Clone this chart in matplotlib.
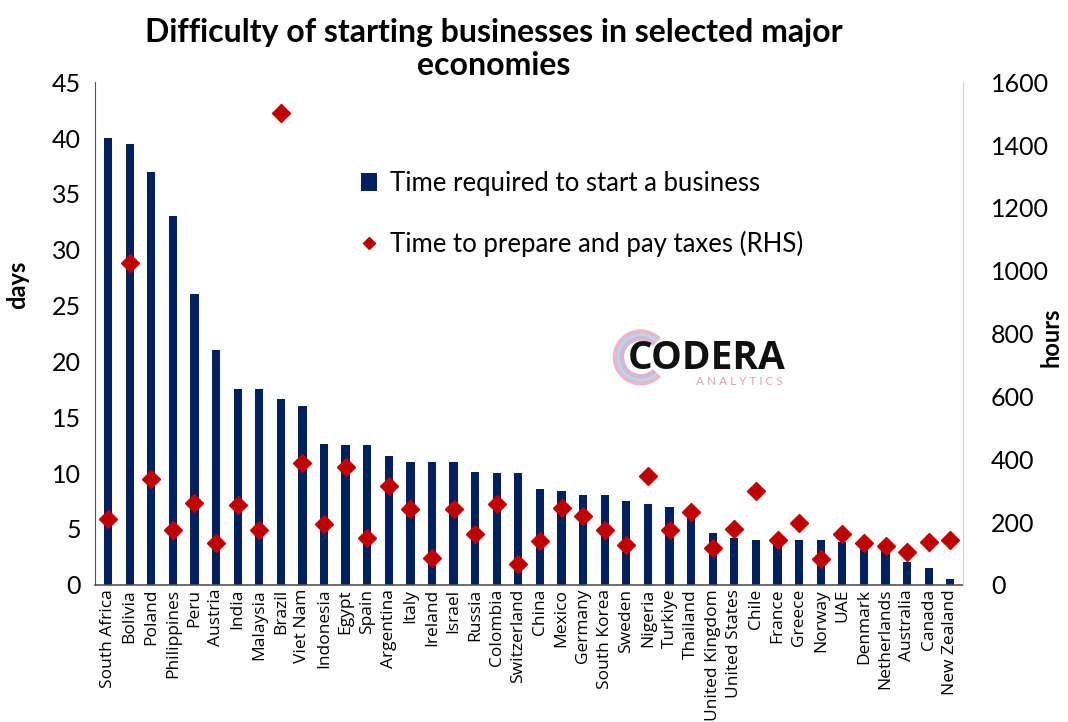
import matplotlib
matplotlib.use("Agg")
import matplotlib.pyplot as plt
from matplotlib.patches import Arc
import numpy as np

countries = ["South Africa", "Bolivia", "Poland", "Philippines", "Peru", "Austria", "India",
             "Malaysia", "Brazil", "Viet Nam", "Indonesia", "Egypt", "Spain", "Argentina",
             "Italy", "Ireland", "Israel", "Russia", "Colombia", "Switzerland", "China",
             "Mexico", "Germany", "South Korea", "Sweden", "Nigeria", "Turkiye", "Thailand",
             "United Kingdom", "United States", "Chile", "France", "Greece", "Norway", "UAE",
             "Denmark", "Netherlands", "Australia", "Canada", "New Zealand"]
start_days = [40, 39.5, 37, 33, 26, 21, 17.5, 17.5, 16.6, 16, 12.6, 12.5, 12.5, 11.5,
              11, 11, 11, 10.1, 10, 10, 8.6, 8.4, 8, 8, 7.5, 7.2, 7, 6.5,
              4.6, 4.2, 4, 4, 4, 4, 3.8, 3.5, 3.3, 2, 1.5, 0.5]
tax_hours = [210, 1025, 337, 175, 261, 134, 254, 175, 1501, 388, 194, 375, 150, 315,
             242, 86, 242, 162, 257, 67, 141, 245, 219, 175, 127, 345, 173, 232,
             118, 178, 299, 143, 197, 83, 162, 134, 124, 106, 135, 143]

plt.rcParams['font.family'] = ['Lato', 'DejaVu Sans']
navy = "#002060"
red = "#C00000"

fig = plt.figure(figsize=(10.68, 7.22), dpi=100)
ax = fig.add_axes([0.089, 0.19, 0.813, 0.696])
x = np.arange(len(countries))
bars = ax.bar(x, start_days, width=0.38, color=navy, label="Time required to start a business", zorder=2)
ax.set_xlim(-0.6, len(countries) - 0.4)
ax.set_ylim(0, 45)
ax.set_yticks(np.arange(0, 46, 5))
ax.set_xticks(x)
ax.set_xticklabels(countries, rotation=90, fontsize=12.5, family=['Open Sans', 'DejaVu Sans'])
ax.tick_params(axis='x', length=0, pad=3)
ax.tick_params(axis='y', length=0, labelsize=18, pad=10)
for s in ['top', 'right']:
    ax.spines[s].set_visible(False)
ax.spines['left'].set_color('#555555')
ax.spines['bottom'].set_color('#555555')
ax.spines['bottom'].set_linewidth(1.2)

ax2 = ax.twinx()
pts, = ax2.plot(x, tax_hours, linestyle='none', marker='D', markersize=9,
                color=red, label="Time to prepare and pay taxes (RHS)", zorder=3)
ax2.set_ylim(0, 1600)
ax2.set_yticks(np.arange(0, 1601, 200))
ax2.tick_params(axis='y', length=0, labelsize=18, pad=20)
for s in ['top', 'left', 'bottom']:
    ax2.spines[s].set_visible(False)
ax2.spines['right'].set_color('#d0d0d0')

fig.text(18 / 1068, 1 - 285 / 722, "days", rotation=90, fontsize=17, fontweight='bold',
         ha='center', va='center')
fig.text(1051 / 1068, 1 - 337 / 722, "hours", rotation=90, fontsize=17, fontweight='bold',
         ha='center', va='center')

leg = ax2.legend(handles=[bars, pts], loc='upper left', bbox_to_anchor=(0.28, 0.87),
                 frameon=False, fontsize=18.5, handlelength=0.6, handletextpad=0.5,
                 labelspacing=1.35, markerscale=0.7)

fig.text(0.462, 0.975, "Difficulty of starting businesses in selected major\neconomies",
         ha='center', va='top', fontsize=23, fontweight='bold', linespacing=1.15)

# logo
fig.text(0.662, 0.503, "CODERA", fontsize=28, fontweight='bold', color='#111111',
         ha='center', va='center', family=['Open Sans', 'DejaVu Sans'])
fig.text(0.692, 0.471, "A N A L Y T I C S", fontsize=8.5, color='#d9a3b4',
         ha='center', va='center')
for r, c in [(0.036, '#e7a7bd'), (0.031, '#a9cde0'), (0.026, '#d6a0c8')]:
    arc = Arc((0.6, 0.505), r * 722 / 1068 * 2, r * 2, theta1=55, theta2=305,
              transform=fig.transFigure, color=c, lw=3, alpha=0.8)
    fig.add_artist(arc)

fig.savefig("out.png", dpi=100)
